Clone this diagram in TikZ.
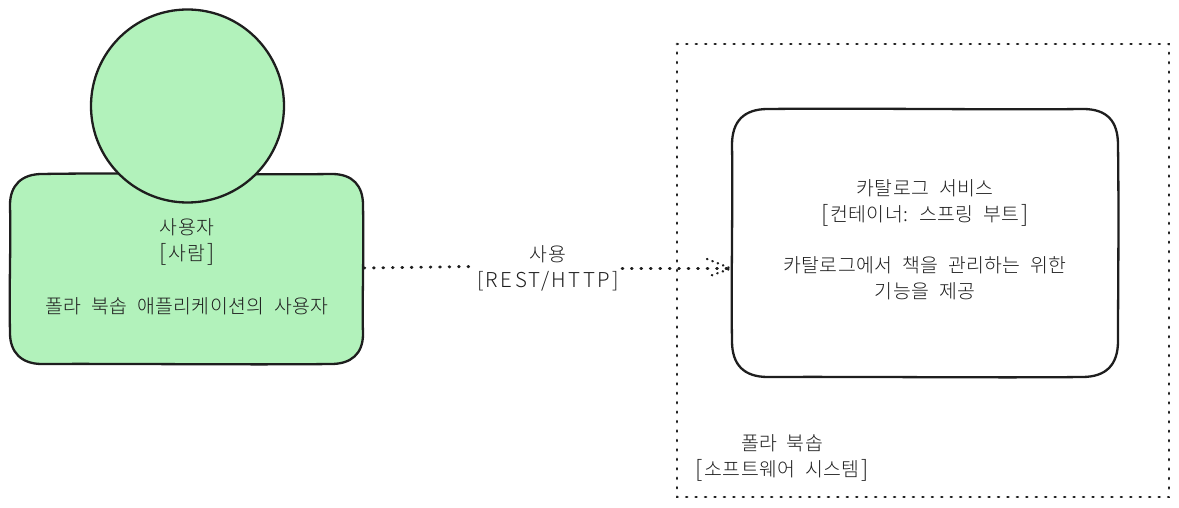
\documentclass[tikz,border=0pt]{standalone}
\usepackage{fontspec}
\setmainfont{Noto Sans CJK KR Light}[WordSpace=2.1,LetterSpace=2]
\newfontfamily\latinhand{Noto Sans CJK KR Light}[LetterSpace=12]
\newcommand{\lbk}{\raisebox{-1pt}{\fontsize{23}{26}\selectfont[}\hspace{2pt}}
\newcommand{\rbk}{\hspace{2pt}\raisebox{-1pt}{\fontsize{23}{26}\selectfont]}}
\tikzset{
  outlined/.style={draw=inkc,line width=2.3pt,line join=round},
  label/.style={font=\fontsize{19.4}{26}\selectfont,text=inkc,align=center,inner sep=0pt},
  dotline/.style={draw=inkc,line width=2.9pt,line cap=round,dash pattern=on 0.8pt off 8.65pt},
}
\definecolor{inkc}{HTML}{1E1E1E}
\definecolor{fillg}{HTML}{B2F2BB}
\begin{document}
\begin{tikzpicture}[x=1pt,y=-1pt]
\useasboundingbox (0,0) rectangle (1179,508);
\draw[outlined,fill=fillg] (42,174) .. controls (120,172.5) and (260,175) .. (332,174)
  .. controls (353,174) and (363,186) .. (363,205)
  .. controls (364,260) and (362,300) .. (363,334)
  .. controls (363,354) and (351,364) .. (331,364)
  .. controls (250,365) and (120,363.5) .. (42,364)
  .. controls (21,364) and (10,352) .. (10,333)
  .. controls (9,280) and (11,250) .. (10,205)
  .. controls (10,185) and (22,174) .. (42,174) -- cycle;
\node[outlined,fill=fillg,circle,minimum size=193pt,inner sep=0pt] (person) at (187.5,106) {};
\draw[outlined,fill=white] (768,109) .. controls (860,108) and (1000,110) .. (1083,109)
  .. controls (1107,109) and (1118,121) .. (1118,145)
  .. controls (1119,220) and (1118,290) .. (1118,341)
  .. controls (1118,365) and (1106,377) .. (1082,377)
  .. controls (1000,378) and (860,376.5) .. (768,377)
  .. controls (744,377) and (732,365) .. (732,341)
  .. controls (731,280) and (733,200) .. (732,145)
  .. controls (732,121) and (744,109) .. (768,109) -- cycle;
\draw[dotline] (677,44) -- (1169,44) -- (1169,497) -- (677,497) -- cycle;
\node[label] (usertext) at (187,242) {사용자\\\lbk 사람\rbk};
\node[label] (userdesc) at (187,306) {폴라 북솝 애플리케이션의 사용자};
\node[label] (svctext) at (925,203) {카탈로그 서비스\\\lbk 컨테이너: 스프링 부트\rbk};
\node[label] (svcdesc) at (925,278) {카탈로그에서 책을 관리하는 위한\\기능을 제공};
\node[label] (systext) at (782,458) {폴라 북솝\\\lbk 소프트웨어 시스템\rbk};
\node[label] (edgetext) at (548,268) {사용\\{\latinhand\fontsize{20.5}{26}\selectfont [REST/HTTP]}};
\coordinate (a) at (364,268);
\coordinate (b) at (473,266.5);
\coordinate (c) at (622,268.5);
\coordinate (d) at (731,268.5);
\draw[dotline] (a) -- (b);
\draw[dotline] (c) -- (d);
\draw[dotline,line width=2.3pt,dash pattern=on 0.5pt off 5.2pt] (707,259) -- (731,268.5) -- (707,277);
\end{tikzpicture}
\end{document}
